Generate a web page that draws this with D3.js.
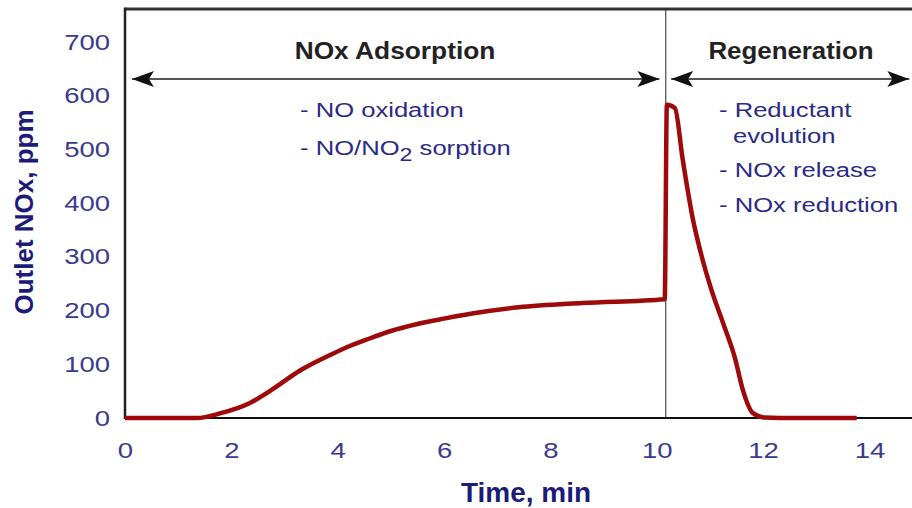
<!DOCTYPE html>
<html lang="en">
<head>
    <meta charset="UTF-8">
    <title>Outlet NOx vs Time</title>
    <script src="https://d3js.org/d3.v7.min.js"></script>
    <style>
        body {
            margin: 0;
            background: #fff;
            font-family: "Liberation Sans", Arial, sans-serif;
        }
        .tick text {
            font-size: 22px;
            fill: #3a3a8c;
        }
        .note {
            font-size: 21px;
            fill: #2a2a86;
        }
        .phase {
            font-size: 23.5px;
            font-weight: bold;
            fill: #222;
        }
        .axis-title {
            font-weight: bold;
            fill: #1c1c78;
        }
    </style>
</head>
<body>
    <svg id="chart" width="912" height="508"></svg>
    <script>
        // Data
        const timeMin = [0, 0.5, 1.0, 1.35, 1.8, 2.35, 2.75, 3.3, 3.85, 4.25, 4.6, 5.0, 5.5, 6.0, 6.5, 7.4, 8.6, 10.15,
                         10.19, 10.34, 10.49, 10.68, 10.84, 11.03, 11.25, 11.47, 11.62, 11.81, 12.03, 12.6, 13.2, 13.76];
        const noxPpm = [0, 0, 0, 0, 9, 28, 52, 89, 117, 135, 148, 162, 175, 185, 194, 206, 214, 221,
                        583, 577, 480, 370, 303, 238, 176, 112, 52, 9, 1, 0, 0, 0];
        const xTicks = [0, 2, 4, 6, 8, 10, 12, 14];
        const yTicks = [0, 100, 200, 300, 400, 500, 600, 700];
        const switchTime = 10.17;
        const phases = [
            { label: "NOx Adsorption", from: 0.13, to: 10.05 },
            { label: "Regeneration", from: 10.27, to: 14.75 }
        ];
        const leftNotes = [["- NO oxidation", 117], ["- NO/NO|2| sorption", 155]];
        const rightNotes = [["- Reductant", 117, 0], ["evolution", 143, 14], ["- NOx release", 177, 0], ["- NOx reduction", 212, 0]];

        const plotLeft = 125, plotRight = 912, plotTop = 9, plotBottom = 418;
        const svg = d3.select("#chart");

        const x = d3.scaleLinear().domain([0, 14.8]).range([plotLeft, plotRight]);
        const y = d3.scaleLinear().domain([0, 700]).range([plotBottom, 42]);

        // arrow marker
        const defs = svg.append("defs");
        defs.append("marker")
            .attr("id", "head")
            .attr("viewBox", "0 0 22 16")
            .attr("refX", 22).attr("refY", 8)
            .attr("markerWidth", 22).attr("markerHeight", 16)
            .attr("markerUnits", "userSpaceOnUse")
            .attr("orient", "auto-start-reverse")
            .append("path")
            .attr("d", "M0,0 L22,8 L0,16 L5,8 Z")
            .attr("fill", "#111");

        // axes
        const xAxis = svg.append("g")
            .attr("transform", `translate(0,${plotBottom})`)
            .call(d3.axisBottom(x).tickValues(xTicks).tickSize(0));
        xAxis.select(".domain").remove();
        xAxis.selectAll(".tick text")
            .attr("transform", "scale(1.25,1)")
            .attr("x", 0).attr("y", 40).attr("dy", 0);

        const yAxis = svg.append("g")
            .attr("transform", `translate(${plotLeft},0)`)
            .call(d3.axisLeft(y).tickValues(yTicks).tickSize(0));
        yAxis.select(".domain").remove();
        yAxis.selectAll(".tick text").attr("transform", "scale(1.25,1)").attr("x", -12);

        // frame lines
        svg.append("line").attr("x1", plotLeft).attr("x2", plotRight).attr("y1", plotTop).attr("y2", plotTop)
            .attr("stroke", "#333").attr("stroke-width", 3);
        svg.append("line").attr("x1", plotLeft).attr("x2", plotRight).attr("y1", plotBottom).attr("y2", plotBottom)
            .attr("stroke", "#111").attr("stroke-width", 2);
        svg.append("line").attr("x1", plotLeft).attr("x2", plotLeft).attr("y1", plotTop - 1.5).attr("y2", plotBottom + 1)
            .attr("stroke", "#222").attr("stroke-width", 2.5);
        svg.append("line").attr("x1", x(switchTime)).attr("x2", x(switchTime)).attr("y1", plotTop).attr("y2", plotBottom)
            .attr("stroke", "#222").attr("stroke-width", 1);

        // phase arrows and labels
        phases.forEach(p => {
            svg.append("line")
                .attr("x1", x(p.from)).attr("x2", x(p.to))
                .attr("y1", 79).attr("y2", 79)
                .attr("stroke", "#555").attr("stroke-width", 2)
                .attr("marker-start", "url(#head)")
                .attr("marker-end", "url(#head)");
        });
        svg.append("text").attr("class", "phase").attr("text-anchor", "middle")
            .attr("transform", "translate(395,59) scale(1.12,1)").text(phases[0].label);
        svg.append("text").attr("class", "phase").attr("text-anchor", "middle")
            .attr("transform", "translate(791,59) scale(1.1,1)").text(phases[1].label);

        // notes (|2| marks a subscript)
        function note(str, px, py) {
            const t = svg.append("text").attr("class", "note")
                .attr("transform", `translate(${px},${py}) scale(1.22,1)`);
            str.split("|").forEach((part, i) => {
                const s = t.append("tspan").text(part);
                if (i === 1) s.attr("dy", 6).attr("font-size", 19);
                if (i === 2) s.attr("dy", -6);
            });
        }
        leftNotes.forEach(([s, py]) => note(s, 300, py));
        rightNotes.forEach(([s, py, dx]) => note(s, 719 + dx, py));

        // curve
        const pts = timeMin.map((t, i) => [t, noxPpm[i]]);
        svg.append("path")
            .datum(pts)
            .attr("fill", "none")
            .attr("stroke", "#9e0a0a")
            .attr("stroke-width", 4.5)
            .attr("stroke-linejoin", "round")
            .attr("d", d3.line().x(d => x(d[0])).y(d => y(d[1])).curve(d3.curveMonotoneX));

        // axis titles
        svg.append("text").attr("class", "axis-title")
            .attr("text-anchor", "middle")
            .attr("font-size", 28)
            .attr("x", 526).attr("y", 502)
            .text("Time, min");
        svg.append("text").attr("class", "axis-title")
            .attr("text-anchor", "middle")
            .attr("font-size", 26)
            .attr("transform", "translate(33,212) rotate(-90)")
            .text("Outlet NOx, ppm");
    </script>
</body>
</html>
